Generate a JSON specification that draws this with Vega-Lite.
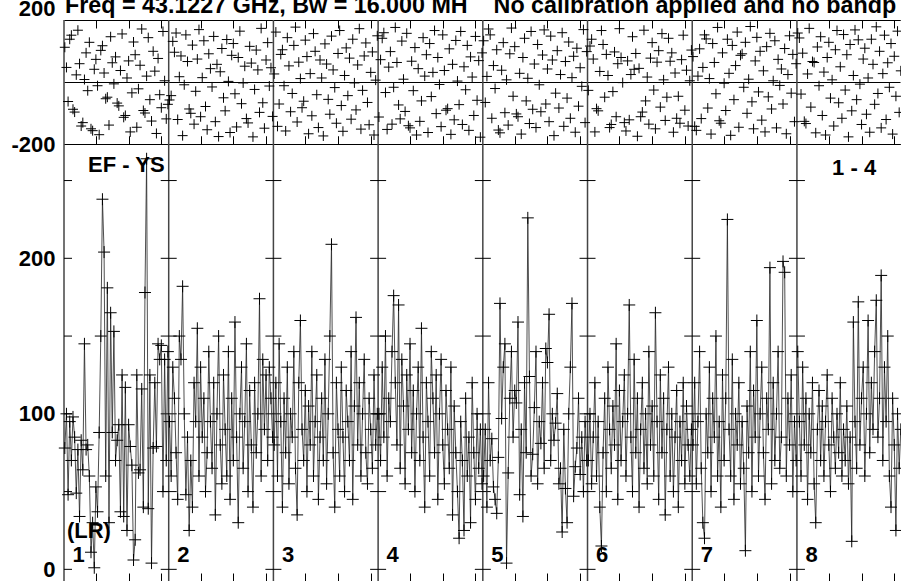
{
"$schema": "https://vega.github.io/schema/vega-lite/v6.json",
"padding": {"left": 10, "top": -7, "right": 0, "bottom": 0},
"background": "white",
"bounds": "flush",
"spacing": 0,
"datasets": {
"d": [
{"g":1,"p":1,"a":78,"f":112},{"g":2,"p":1,"a":100,"f":47},{"g":3,"p":1,"a":48,"f":-63},{"g":4,"p":1,"a":95,"f":138},{"g":5,"p":1,"a":70,"f":151},{"g":6,"p":1,"a":98,"f":-88},{"g":7,"p":1,"a":85,"f":-97},{"g":8,"p":1,"a":49,"f":23},{"g":9,"p":1,"a":77,"f":167},{"g":10,"p":1,"a":34,"f":59},
{"g":11,"p":1,"a":83,"f":-142},{"g":12,"p":1,"a":64,"f":-131},{"g":13,"p":1,"a":145,"f":8},{"g":14,"p":1,"a":77,"f":94},{"g":15,"p":1,"a":80,"f":-28},{"g":16,"p":1,"a":60,"f":128},{"g":17,"p":1,"a":11,"f":-151},{"g":18,"p":1,"a":30,"f":-157},{"g":19,"p":1,"a":1,"f":41},{"g":20,"p":1,"a":53,"f":73},
{"g":21,"p":1,"a":37,"f":-12},{"g":22,"p":1,"a":88,"f":-170},{"g":23,"p":1,"a":150,"f":102},{"g":24,"p":1,"a":238,"f":117},{"g":25,"p":1,"a":204,"f":29},{"g":26,"p":1,"a":60,"f":-54},{"g":27,"p":1,"a":181,"f":-49},{"g":28,"p":1,"a":30,"f":-139},{"g":29,"p":1,"a":165,"f":146},{"g":30,"p":1,"a":88,"f":62},
{"g":31,"p":1,"a":153,"f":-6},{"g":32,"p":1,"a":70,"f":81},{"g":33,"p":1,"a":83,"f":-68},{"g":34,"p":1,"a":93,"f":-77},{"g":35,"p":1,"a":37,"f":37},{"g":36,"p":1,"a":125,"f":155},{"g":37,"p":1,"a":34,"f":-114},{"g":38,"p":1,"a":117,"f":-108},{"g":39,"p":1,"a":25,"f":13},{"g":40,"p":1,"a":93,"f":68},
{"g":41,"p":1,"a":79,"f":-161},{"g":42,"p":1,"a":67,"f":-35},{"g":43,"p":1,"a":6,"f":129},{"g":44,"p":1,"a":19,"f":88},{"g":45,"p":1,"a":125,"f":-146},{"g":46,"p":1,"a":62,"f":-22},{"g":47,"p":1,"a":64,"f":54},{"g":48,"p":1,"a":116,"f":171},{"g":49,"p":1,"a":40,"f":-92},{"g":50,"p":1,"a":178,"f":-100},
{"g":51,"p":1,"a":264,"f":19},{"g":52,"p":1,"a":39,"f":143},{"g":53,"p":1,"a":125,"f":-57},{"g":54,"p":1,"a":4,"f":-126},{"g":55,"p":1,"a":78,"f":99},{"g":56,"p":1,"a":120,"f":35},{"g":57,"p":1,"a":79,"f":-166},{"g":58,"p":1,"a":145,"f":76},{"g":59,"p":1,"a":135,"f":-41},{"g":60,"p":1,"a":144,"f":-83},
{"g":61,"p":1,"a":50,"f":163},{"g":62,"p":1,"a":135,"f":4},{"g":63,"p":1,"a":70,"f":-119},{"g":64,"p":1,"a":140,"f":-72},
{"g":65,"p":2,"a":95,"f":-58},{"g":66,"p":2,"a":60,"f":-44},{"g":67,"p":2,"a":130,"f":131},{"g":68,"p":2,"a":110,"f":96},{"g":69,"p":2,"a":75,"f":158},{"g":70,"p":2,"a":45,"f":-121},{"g":71,"p":2,"a":150,"f":17},{"g":72,"p":2,"a":135,"f":84},{"g":73,"p":2,"a":182,"f":-173},{"g":74,"p":2,"a":100,"f":-9},
{"g":75,"p":2,"a":48,"f":152},{"g":76,"p":2,"a":85,"f":66},{"g":77,"p":2,"a":25,"f":-87},{"g":78,"p":2,"a":70,"f":-101},{"g":79,"p":2,"a":40,"f":119},{"g":80,"p":2,"a":120,"f":-136},{"g":81,"p":2,"a":95,"f":-30},{"g":82,"p":2,"a":155,"f":74},{"g":83,"p":2,"a":60,"f":169},{"g":84,"p":2,"a":130,"f":-112},
{"g":85,"p":2,"a":85,"f":14},{"g":86,"p":2,"a":110,"f":133},{"g":87,"p":2,"a":50,"f":-79},{"g":88,"p":2,"a":75,"f":-154},{"g":89,"p":2,"a":140,"f":91},{"g":90,"p":2,"a":95,"f":43},{"g":91,"p":2,"a":65,"f":-16},{"g":92,"p":2,"a":120,"f":147},{"g":93,"p":2,"a":35,"f":-128},{"g":94,"p":2,"a":100,"f":57},
{"g":95,"p":2,"a":150,"f":-176},{"g":96,"p":2,"a":80,"f":33},{"g":97,"p":2,"a":55,"f":108},{"g":98,"p":2,"a":125,"f":-51},{"g":99,"p":2,"a":90,"f":-93},{"g":100,"p":2,"a":60,"f":137},{"g":101,"p":2,"a":140,"f":2},{"g":102,"p":2,"a":45,"f":-163},{"g":103,"p":2,"a":110,"f":86},{"g":104,"p":2,"a":70,"f":124},
{"g":105,"p":2,"a":159,"f":-38},{"g":106,"p":2,"a":85,"f":-145},{"g":107,"p":2,"a":30,"f":79},{"g":108,"p":2,"a":100,"f":164},{"g":109,"p":2,"a":130,"f":-70},{"g":110,"p":2,"a":65,"f":-3},{"g":111,"p":2,"a":95,"f":51},{"g":112,"p":2,"a":145,"f":-118},{"g":113,"p":2,"a":50,"f":-132},{"g":114,"p":2,"a":115,"f":115},
{"g":115,"p":2,"a":80,"f":61},{"g":116,"p":2,"a":40,"f":-177},{"g":117,"p":2,"a":120,"f":-24},{"g":118,"p":2,"a":75,"f":103},{"g":119,"p":2,"a":100,"f":39},{"g":120,"p":2,"a":174,"f":-98},{"g":121,"p":2,"a":60,"f":173},{"g":122,"p":2,"a":135,"f":-67},{"g":123,"p":2,"a":90,"f":-149},{"g":124,"p":2,"a":125,"f":71},
{"g":125,"p":2,"a":70,"f":127},{"g":126,"p":2,"a":130,"f":-13},{"g":127,"p":2,"a":110,"f":46},{"g":128,"p":2,"a":85,"f":-111},
{"g":129,"p":3,"a":80,"f":26},{"g":130,"p":3,"a":120,"f":161},{"g":131,"p":3,"a":60,"f":-143},{"g":132,"p":3,"a":145,"f":-71},{"g":133,"p":3,"a":95,"f":89},{"g":134,"p":3,"a":40,"f":104},{"g":135,"p":3,"a":110,"f":-12},{"g":136,"p":3,"a":75,"f":-158},{"g":137,"p":3,"a":130,"f":143},{"g":138,"p":3,"a":55,"f":52},
{"g":139,"p":3,"a":100,"f":-96},{"g":140,"p":3,"a":85,"f":-37},{"g":141,"p":3,"a":140,"f":118},{"g":142,"p":3,"a":65,"f":177},{"g":143,"p":3,"a":35,"f":-129},{"g":144,"p":3,"a":120,"f":64},{"g":145,"p":3,"a":160,"f":11},{"g":146,"p":3,"a":90,"f":-83},{"g":147,"p":3,"a":70,"f":-62},{"g":148,"p":3,"a":115,"f":135},
{"g":149,"p":3,"a":50,"f":82},{"g":150,"p":3,"a":105,"f":-167},{"g":151,"p":3,"a":80,"f":27},{"g":152,"p":3,"a":140,"f":-109},{"g":153,"p":3,"a":60,"f":156},{"g":154,"p":3,"a":95,"f":99},{"g":155,"p":3,"a":125,"f":-41},{"g":156,"p":3,"a":45,"f":-147},{"g":157,"p":3,"a":85,"f":71},{"g":158,"p":3,"a":110,"f":13},
{"g":159,"p":3,"a":70,"f":-174},{"g":160,"p":3,"a":135,"f":123},{"g":161,"p":3,"a":55,"f":58},{"g":162,"p":3,"a":100,"f":-56},{"g":163,"p":3,"a":150,"f":-104},{"g":164,"p":3,"a":209,"f":148},{"g":165,"p":3,"a":75,"f":39},{"g":166,"p":3,"a":40,"f":-18},{"g":167,"p":3,"a":120,"f":-133},{"g":168,"p":3,"a":90,"f":92},
{"g":169,"p":3,"a":60,"f":166},{"g":170,"p":3,"a":130,"f":-76},{"g":171,"p":3,"a":85,"f":-159},{"g":172,"p":3,"a":50,"f":21},{"g":173,"p":3,"a":115,"f":110},{"g":174,"p":3,"a":95,"f":-44},{"g":175,"p":3,"a":70,"f":77},{"g":176,"p":3,"a":140,"f":-120},{"g":177,"p":3,"a":45,"f":138},{"g":178,"p":3,"a":105,"f":-3},
{"g":179,"p":3,"a":162,"f":-90},{"g":180,"p":3,"a":80,"f":55},{"g":181,"p":3,"a":120,"f":172},{"g":182,"p":3,"a":60,"f":-152},{"g":183,"p":3,"a":100,"f":-27},{"g":184,"p":3,"a":135,"f":84},{"g":185,"p":3,"a":75,"f":126},{"g":186,"p":3,"a":55,"f":-66},{"g":187,"p":3,"a":110,"f":-138},{"g":188,"p":3,"a":90,"f":31},
{"g":189,"p":3,"a":65,"f":97},{"g":190,"p":3,"a":125,"f":-171},{"g":191,"p":3,"a":80,"f":6},{"g":192,"p":3,"a":100,"f":149},
{"g":193,"p":4,"a":100,"f":-113},{"g":194,"p":4,"a":70,"f":72},{"g":195,"p":4,"a":130,"f":141},{"g":196,"p":4,"a":85,"f":159},{"g":197,"p":4,"a":150,"f":-34},{"g":198,"p":4,"a":60,"f":-153},{"g":199,"p":4,"a":110,"f":48},{"g":200,"p":4,"a":95,"f":98},{"g":201,"p":4,"a":140,"f":-136},{"g":202,"p":4,"a":176,"f":-17},
{"g":203,"p":4,"a":120,"f":176},{"g":204,"p":4,"a":80,"f":63},{"g":205,"p":4,"a":170,"f":-74},{"g":206,"p":4,"a":65,"f":-119},{"g":207,"p":4,"a":135,"f":132},{"g":208,"p":4,"a":105,"f":9},{"g":209,"p":4,"a":55,"f":-95},{"g":210,"p":4,"a":125,"f":157},{"g":211,"p":4,"a":90,"f":-141},{"g":212,"p":4,"a":145,"f":-148},
{"g":213,"p":4,"a":75,"f":67},{"g":214,"p":4,"a":115,"f":-28},{"g":215,"p":4,"a":50,"f":111},{"g":216,"p":4,"a":100,"f":-171},{"g":217,"p":4,"a":130,"f":43},{"g":218,"p":4,"a":70,"f":-127},{"g":219,"p":4,"a":155,"f":-61},{"g":220,"p":4,"a":85,"f":143},{"g":221,"p":4,"a":40,"f":19},{"g":222,"p":4,"a":120,"f":88},
{"g":223,"p":4,"a":95,"f":-163},{"g":224,"p":4,"a":60,"f":124},{"g":225,"p":4,"a":140,"f":-47},{"g":226,"p":4,"a":110,"f":31},{"g":227,"p":4,"a":75,"f":166},{"g":228,"p":4,"a":125,"f":-102},{"g":229,"p":4,"a":45,"f":79},{"g":230,"p":4,"a":100,"f":-8},{"g":231,"p":4,"a":135,"f":-144},{"g":232,"p":4,"a":80,"f":152},
{"g":233,"p":4,"a":55,"f":37},{"g":234,"p":4,"a":115,"f":-91},{"g":235,"p":4,"a":90,"f":-86},{"g":236,"p":4,"a":65,"f":107},{"g":237,"p":4,"a":130,"f":-169},{"g":238,"p":4,"a":35,"f":57},{"g":239,"p":4,"a":105,"f":-122},{"g":240,"p":4,"a":75,"f":134},{"g":241,"p":4,"a":50,"f":3},{"g":242,"p":4,"a":20,"f":-73},
{"g":243,"p":4,"a":95,"f":163},{"g":244,"p":4,"a":70,"f":-137},{"g":245,"p":4,"a":25,"f":49},{"g":246,"p":4,"a":110,"f":-25},{"g":247,"p":4,"a":60,"f":118},{"g":248,"p":4,"a":85,"f":-156},{"g":249,"p":4,"a":30,"f":81},{"g":250,"p":4,"a":120,"f":16},{"g":251,"p":4,"a":75,"f":-108},{"g":252,"p":4,"a":45,"f":147},
{"g":253,"p":4,"a":100,"f":-59},{"g":254,"p":4,"a":65,"f":69},{"g":255,"p":4,"a":90,"f":-178},{"g":256,"p":4,"a":55,"f":94},
{"g":257,"p":5,"a":60,"f":133},{"g":258,"p":5,"a":90,"f":-66},{"g":259,"p":5,"a":40,"f":18},{"g":260,"p":5,"a":120,"f":171},{"g":261,"p":5,"a":70,"f":152},{"g":262,"p":5,"a":84,"f":-117},{"g":263,"p":5,"a":53,"f":53},{"g":264,"p":5,"a":45,"f":-21},{"g":265,"p":5,"a":36,"f":104},{"g":266,"p":5,"a":72,"f":-155},
{"g":267,"p":5,"a":171,"f":-164},{"g":268,"p":5,"a":97,"f":38},{"g":269,"p":5,"a":130,"f":127},{"g":270,"p":5,"a":145,"f":-99},{"g":271,"p":5,"a":4,"f":7},{"g":272,"p":5,"a":62,"f":-139},{"g":273,"p":5,"a":110,"f":91},{"g":274,"p":5,"a":140,"f":174},{"g":275,"p":5,"a":85,"f":-46},{"g":276,"p":5,"a":115,"f":114},
{"g":277,"p":5,"a":107,"f":-103},{"g":278,"p":5,"a":159,"f":-112},{"g":279,"p":5,"a":48,"f":28},{"g":280,"p":5,"a":90,"f":-168},{"g":281,"p":5,"a":34,"f":79},{"g":282,"p":5,"a":120,"f":141},{"g":283,"p":5,"a":75,"f":-61},{"g":284,"p":5,"a":226,"f":12},{"g":285,"p":5,"a":124,"f":-134},{"g":286,"p":5,"a":60,"f":163},
{"g":287,"p":5,"a":74,"f":-88},{"g":288,"p":5,"a":104,"f":58},{"g":289,"p":5,"a":140,"f":-147},{"g":290,"p":5,"a":55,"f":121},{"g":291,"p":5,"a":95,"f":-9},{"g":292,"p":5,"a":81,"f":-96},{"g":293,"p":5,"a":120,"f":87},{"g":294,"p":5,"a":65,"f":168},{"g":295,"p":5,"a":142,"f":-71},{"g":296,"p":5,"a":133,"f":42},
{"g":297,"p":5,"a":164,"f":-128},{"g":298,"p":5,"a":70,"f":148},{"g":299,"p":5,"a":100,"f":71},{"g":300,"p":5,"a":83,"f":-173},{"g":301,"p":5,"a":94,"f":-36},{"g":302,"p":5,"a":113,"f":101},{"g":303,"p":5,"a":55,"f":-84},{"g":304,"p":5,"a":65,"f":24},{"g":305,"p":5,"a":24,"f":159},{"g":306,"p":5,"a":90,"f":-143},
{"g":307,"p":5,"a":52,"f":66},{"g":308,"p":5,"a":30,"f":-52},{"g":309,"p":5,"a":100,"f":129},{"g":310,"p":5,"a":130,"f":-117},{"g":311,"p":5,"a":171,"f":14},{"g":312,"p":5,"a":47,"f":83},{"g":313,"p":5,"a":66,"f":-162},{"g":314,"p":5,"a":78,"f":109},{"g":315,"p":5,"a":110,"f":-78},{"g":316,"p":5,"a":61,"f":46},
{"g":317,"p":5,"a":85,"f":-14},{"g":318,"p":5,"a":50,"f":169},{"g":319,"p":5,"a":95,"f":-131},{"g":320,"p":5,"a":70,"f":98},
{"g":321,"p":6,"a":70,"f":-27},{"g":322,"p":6,"a":100,"f":116},{"g":323,"p":6,"a":55,"f":138},{"g":324,"p":6,"a":85,"f":74},{"g":325,"p":6,"a":120,"f":-161},{"g":326,"p":6,"a":60,"f":-86},{"g":327,"p":6,"a":95,"f":-93},{"g":328,"p":6,"a":40,"f":34},{"g":329,"p":6,"a":15,"f":166},{"g":330,"p":6,"a":75,"f":121},
{"g":331,"p":6,"a":110,"f":-49},{"g":332,"p":6,"a":50,"f":89},{"g":333,"p":6,"a":130,"f":21},{"g":334,"p":6,"a":90,"f":-147},{"g":335,"p":6,"a":65,"f":-137},{"g":336,"p":6,"a":105,"f":-31},{"g":337,"p":6,"a":80,"f":97},{"g":338,"p":6,"a":145,"f":-112},{"g":339,"p":6,"a":45,"f":59},{"g":340,"p":6,"a":115,"f":172},
{"g":341,"p":6,"a":70,"f":79},{"g":342,"p":6,"a":95,"f":-2},{"g":343,"p":6,"a":125,"f":-131},{"g":344,"p":6,"a":60,"f":-158},{"g":345,"p":6,"a":100,"f":68},{"g":346,"p":6,"a":170,"f":-122},{"g":347,"p":6,"a":85,"f":24},{"g":348,"p":6,"a":50,"f":146},{"g":349,"p":6,"a":135,"f":41},{"g":350,"p":6,"a":75,"f":92},
{"g":351,"p":6,"a":110,"f":-175},{"g":352,"p":6,"a":40,"f":44},{"g":353,"p":6,"a":90,"f":-112},{"g":354,"p":6,"a":120,"f":-97},{"g":355,"p":6,"a":65,"f":167},{"g":356,"p":6,"a":100,"f":-61},{"g":357,"p":6,"a":55,"f":16},{"g":358,"p":6,"a":140,"f":-136},{"g":359,"p":6,"a":80,"f":77},{"g":360,"p":6,"a":105,"f":127},
{"g":361,"p":6,"a":60,"f":-26},{"g":362,"p":6,"a":165,"f":-151},{"g":363,"p":6,"a":95,"f":64},{"g":364,"p":6,"a":45,"f":101},{"g":365,"p":6,"a":125,"f":-81},{"g":366,"p":6,"a":75,"f":156},{"g":367,"p":6,"a":110,"f":7},{"g":368,"p":6,"a":35,"f":-124},{"g":369,"p":6,"a":90,"f":-49},{"g":370,"p":6,"a":130,"f":141},
{"g":371,"p":6,"a":60,"f":67},{"g":372,"p":6,"a":100,"f":94},{"g":373,"p":6,"a":50,"f":-162},{"g":374,"p":6,"a":85,"f":29},{"g":375,"p":6,"a":115,"f":-117},{"g":376,"p":6,"a":40,"f":-46},{"g":377,"p":6,"a":95,"f":-133},{"g":378,"p":6,"a":70,"f":72},{"g":379,"p":6,"a":120,"f":151},{"g":380,"p":6,"a":55,"f":-91},
{"g":381,"p":6,"a":105,"f":38},{"g":382,"p":6,"a":80,"f":-142},{"g":383,"p":6,"a":60,"f":4},{"g":384,"p":6,"a":90,"f":103},
{"g":385,"p":7,"a":80,"f":82},{"g":386,"p":7,"a":120,"f":-143},{"g":387,"p":7,"a":55,"f":-156},{"g":388,"p":7,"a":95,"f":19},{"g":389,"p":7,"a":140,"f":107},{"g":390,"p":7,"a":65,"f":-118},{"g":391,"p":7,"a":30,"f":47},{"g":392,"p":7,"a":20,"f":152},{"g":393,"p":7,"a":100,"f":139},{"g":394,"p":7,"a":75,"f":-84},
{"g":395,"p":7,"a":130,"f":11},{"g":396,"p":7,"a":50,"f":-168},{"g":397,"p":7,"a":110,"f":124},{"g":398,"p":7,"a":85,"f":63},{"g":399,"p":7,"a":150,"f":-38},{"g":400,"p":7,"a":60,"f":176},{"g":401,"p":7,"a":95,"f":-125},{"g":402,"p":7,"a":40,"f":-133},{"g":403,"p":7,"a":125,"f":94},{"g":404,"p":7,"a":70,"f":-4},
{"g":405,"p":7,"a":110,"f":-92},{"g":406,"p":7,"a":225,"f":138},{"g":407,"p":7,"a":90,"f":28},{"g":408,"p":7,"a":60,"f":-172},{"g":409,"p":7,"a":135,"f":118},{"g":410,"p":7,"a":45,"f":-57},{"g":411,"p":7,"a":100,"f":53},{"g":412,"p":7,"a":80,"f":161},{"g":413,"p":7,"a":120,"f":-146},{"g":414,"p":7,"a":55,"f":86},
{"g":415,"p":7,"a":95,"f":91},{"g":416,"p":7,"a":65,"f":-17},{"g":417,"p":7,"a":12,"f":128},{"g":418,"p":7,"a":105,"f":-101},{"g":419,"p":7,"a":75,"f":9},{"g":420,"p":7,"a":140,"f":179},{"g":421,"p":7,"a":50,"f":-64},{"g":422,"p":7,"a":115,"f":-151},{"g":423,"p":7,"a":85,"f":68},{"g":424,"p":7,"a":160,"f":144},
{"g":425,"p":7,"a":60,"f":-32},{"g":426,"p":7,"a":100,"f":99},{"g":427,"p":7,"a":130,"f":-123},{"g":428,"p":7,"a":75,"f":36},{"g":429,"p":7,"a":45,"f":-161},{"g":430,"p":7,"a":110,"f":114},{"g":431,"p":7,"a":90,"f":-48},{"g":432,"p":7,"a":194,"f":157},{"g":433,"p":7,"a":55,"f":-87},{"g":434,"p":7,"a":120,"f":4},
{"g":435,"p":7,"a":70,"f":133},{"g":436,"p":7,"a":100,"f":-148},{"g":437,"p":7,"a":140,"f":73},{"g":438,"p":7,"a":65,"f":-11},{"g":439,"p":7,"a":85,"f":42},{"g":440,"p":7,"a":198,"f":-71},{"g":441,"p":7,"a":191,"f":108},{"g":442,"p":7,"a":60,"f":-167},{"g":443,"p":7,"a":110,"f":24},{"g":444,"p":7,"a":80,"f":149},
{"g":445,"p":7,"a":125,"f":-36},{"g":446,"p":7,"a":50,"f":89},{"g":447,"p":7,"a":95,"f":-128},{"g":448,"p":7,"a":70,"f":59},
{"g":449,"p":8,"a":140,"f":158},{"g":450,"p":8,"a":95,"f":142},{"g":451,"p":8,"a":60,"f":-39},{"g":452,"p":8,"a":130,"f":93},{"g":453,"p":8,"a":80,"f":-127},{"g":454,"p":8,"a":110,"f":-134},{"g":455,"p":8,"a":45,"f":26},{"g":456,"p":8,"a":100,"f":173},{"g":457,"p":8,"a":75,"f":-81},{"g":458,"p":8,"a":120,"f":66},
{"g":459,"p":8,"a":55,"f":63},{"g":460,"p":8,"a":30,"f":-164},{"g":461,"p":8,"a":90,"f":113},{"g":462,"p":8,"a":115,"f":-12},{"g":463,"p":8,"a":70,"f":146},{"g":464,"p":8,"a":105,"f":-108},{"g":465,"p":8,"a":60,"f":32},{"g":466,"p":8,"a":95,"f":-171},{"g":467,"p":8,"a":125,"f":79},{"g":468,"p":8,"a":80,"f":128},
{"g":469,"p":8,"a":50,"f":-52},{"g":470,"p":8,"a":110,"f":7},{"g":471,"p":8,"a":85,"f":-142},{"g":472,"p":8,"a":65,"f":104},{"g":473,"p":8,"a":100,"f":166},{"g":474,"p":8,"a":75,"f":-67},{"g":475,"p":8,"a":120,"f":49},{"g":476,"p":8,"a":60,"f":-117},{"g":477,"p":8,"a":90,"f":153},{"g":478,"p":8,"a":70,"f":-26},
{"g":479,"p":8,"a":105,"f":88},{"g":480,"p":8,"a":55,"f":-177},{"g":481,"p":8,"a":85,"f":121},{"g":482,"p":8,"a":18,"f":-93},{"g":483,"p":8,"a":159,"f":21},{"g":484,"p":8,"a":95,"f":168},{"g":485,"p":8,"a":65,"f":-57},{"g":486,"p":8,"a":172,"f":136},{"g":487,"p":8,"a":80,"f":-7},{"g":488,"p":8,"a":110,"f":-137},
{"g":489,"p":8,"a":130,"f":74},{"g":490,"p":8,"a":60,"f":109},{"g":491,"p":8,"a":100,"f":-104},{"g":492,"p":8,"a":160,"f":13},{"g":493,"p":8,"a":75,"f":-162},{"g":494,"p":8,"a":120,"f":138},{"g":495,"p":8,"a":90,"f":57},{"g":496,"p":8,"a":140,"f":-72},{"g":497,"p":8,"a":173,"f":178},{"g":498,"p":8,"a":85,"f":-37},
{"g":499,"p":8,"a":110,"f":99},{"g":500,"p":8,"a":189,"f":-148},{"g":501,"p":8,"a":70,"f":27},{"g":502,"p":8,"a":130,"f":151},{"g":503,"p":8,"a":95,"f":-121},{"g":504,"p":8,"a":150,"f":62},{"g":505,"p":8,"a":60,"f":-17},{"g":506,"p":8,"a":40,"f":124},{"g":507,"p":8,"a":110,"f":-168},{"g":508,"p":8,"a":80,"f":83},
{"g":509,"p":8,"a":25,"f":-46},{"g":510,"p":8,"a":100,"f":164},{"g":511,"p":8,"a":65,"f":-98},{"g":512,"p":8,"a":90,"f":36}
],
"bd": [
{"g":0.5,"lv":[0,50,100,150,200,250]},{"g":64.5,"lv":[0,50,100,150,200,250]},{"g":128.5,"lv":[0,50,100,150,200,250]},{"g":192.5,"lv":[0,50,100,150,200,250]},
{"g":256.5,"lv":[0,50,100,150,200,250]},{"g":320.5,"lv":[0,50,100,150,200,250]},{"g":384.5,"lv":[0,50,100,150,200,250]},{"g":448.5,"lv":[0,50,100,150,200,250]}
],
"ttl": [
{"t":"Freq = 43.1227 GHz, Bw = 16.000 MH\u00a0\u00a0\u00a0\u00a0No calibration applied and no bandp","g":1.1,"f":222.6}
],
"lbl": [
{"t":"EF - YS","g":15.2,"a":260},{"t":"1 - 4","g":470,"a":258},{"t":"(LR)","g":2.3,"a":24.6},
{"t":"1","g":5.7,"a":9.2},{"t":"2","g":69.7,"a":9.2},{"t":"3","g":133.7,"a":9.2},{"t":"4","g":197.7,"a":9.2},
{"t":"5","g":261.7,"a":9.2},{"t":"6","g":325.7,"a":9.2},{"t":"7","g":389.7,"a":9.2},{"t":"8","g":453.7,"a":9.2}
]
},
"vconcat": [
{
"width": 836, "height": 124,
"encoding": {"x": {"field": "g", "type": "quantitative", "scale": {"domain": [0.5, 511.5], "nice": false, "zero": false},
  "axis": {"orient": "bottom", "values": [20,40,60,84,104,124,148,168,188,212,232,252,276,296,316,340,360,380,404,424,444,468,488,508], "tickSize": -8, "labels": false, "title": null, "domain": true, "grid": false}}},
"layer": [
{"data": {"name": "bd"}, "mark": {"type": "rule", "color": "#444", "strokeWidth": 1.5},
 "encoding": {"x": {"field": "g", "type": "quantitative", "axis": {"orient": "top", "values": [20,40,60,84,104,124,148,168,188,212,232,252,276,296,316,340,360,380,404,424,444,468,488,508], "tickSize": -8, "labels": false, "title": null, "domain": true, "grid": false}}}},
{"data": {"name": "d"}, "mark": {"type": "point", "shape": "M-1,0L1,0M0,-1L0,1", "size": 100, "filled": false, "color": "black", "strokeWidth": 1, "opacity": 1},
 "encoding": {"y": {"field": "f", "type": "quantitative", "scale": {"domain": [-200, 200], "nice": false},
   "axis": {"values": [-200, 0, 200], "grid": true, "gridColor": "black", "gridWidth": 1, "gridOpacity": 1, "ticks": false, "domain": false, "title": null, "labelPadding": 9,
     "labelExpr": "datum.value == 0 ? '' : '' + datum.value",
     "labelOffset": {"condition": {"test": "datum.value == 200", "value": -12}, "value": 0}}}}},
{"data": {"name": "ttl"}, "mark": {"type": "text", "font": "Liberation Sans", "fontWeight": "bold", "fontSize": 23.3, "align": "left", "baseline": "alphabetic", "color": "black"},
 "encoding": {"y": {"field": "f", "type": "quantitative"}, "text": {"field": "t"}}}
],
"resolve": {"axis": {"x": "independent"}}
},
{
"width": 836, "height": 437,
"encoding": {"x": {"field": "g", "type": "quantitative", "scale": {"domain": [0.5, 511.5], "nice": false, "zero": false},
  "axis": {"orient": "bottom", "values": [20,40,60,84,104,124,148,168,188,212,232,252,276,296,316,340,360,380,404,424,444,468,488,508], "tickSize": -8, "labels": false, "title": null, "domain": true, "grid": false}}},
"layer": [
{"data": {"name": "bd"}, "mark": {"type": "rule", "color": "#444", "strokeWidth": 1.5},
 "encoding": {}},
{"data": {"name": "bd"}, "transform": [{"flatten": ["lv"]}], "mark": {"type": "tick", "orient": "horizontal", "size": 16, "thickness": 1, "color": "black", "clip": true, "opacity": 1},
 "encoding": {"y": {"field": "lv", "type": "quantitative"}}},
{"data": {"name": "d"}, "mark": {"type": "line", "color": "#222", "strokeWidth": 0.8},
 "encoding": {"y": {"field": "a", "type": "quantitative"}, "detail": {"field": "p"}}},
{"data": {"name": "d"}, "mark": {"type": "point", "shape": "M-1,0L1,0M0,-1L0,1", "size": 144, "filled": false, "color": "black", "strokeWidth": 1, "opacity": 1},
 "encoding": {"y": {"field": "a", "type": "quantitative", "scale": {"domain": [-7.5, 273.5], "nice": false, "zero": false},
   "axis": {"values": [0, 100, 200], "ticks": false, "domain": false, "grid": false, "title": null, "labelPadding": 9}}}},
{"data": {"name": "lbl"}, "mark": {"type": "text", "font": "Liberation Sans", "fontWeight": "bold", "fontSize": 22, "align": "left", "baseline": "middle", "color": "black"},
 "encoding": {"y": {"field": "a", "type": "quantitative"}, "text": {"field": "t"}}}
]
}
],
"config": {
"view": {"stroke": null},
"axis": {"labelFont": "Liberation Sans", "labelFontWeight": "bold", "labelFontSize": 22, "labelColor": "black", "domainColor": "black", "tickColor": "black", "tickWidth": 1, "domainWidth": 1}
}
}
